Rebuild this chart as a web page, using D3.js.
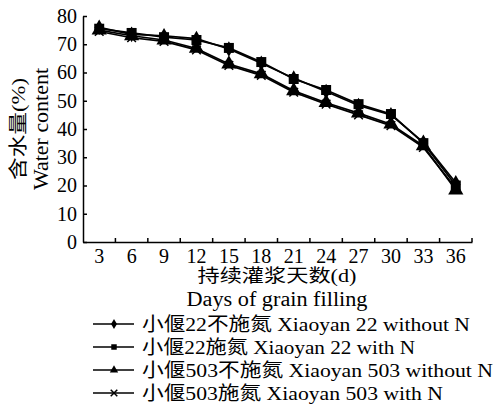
<!DOCTYPE html>
<html>
<head>
<meta charset="utf-8">
<script src="https://cdn.jsdelivr.net/npm/d3@7"></script>
<style>
body { margin: 0; background: #fff; }
text { font-family: "Liberation Serif", "Times New Roman", serif; fill: #000; }
.cjk { font-family: "Liberation Serif", "Noto Sans CJK SC", serif; }
</style>
</head>
<body>
<script>
var width = 497, height = 407;

var days = [3, 6, 9, 12, 15, 18, 21, 24, 27, 30, 33, 36];
var yTicks = [0, 10, 20, 30, 40, 50, 60, 70, 80];
var names = ["小偃22不施氮 Xiaoyan 22 without N", "小偃22施氮 Xiaoyan 22 with N",
             "小偃503不施氮 Xiaoyan 503 without N", "小偃503施氮 Xiaoyan 503 with N"];
var xy22noN = [76, 73.5, 73, 72, 68.3, 63.3, 58, 53.3, 48.3, 45, 35.3, 21];
var xy22N   = [75.5, 74, 72.5, 71.5, 68.7, 63.7, 57.7, 53.8, 48.8, 45.3, 35, 20];
var xy503noN = [75, 73, 71.5, 68.5, 63, 59.5, 53.5, 49.3, 45.6, 41.7, 34, 18.4];
var xy503N   = [74.5, 72.3, 71, 68, 62.5, 59, 53, 48.8, 45, 41.2, 33.5, 19];
var series = [xy22noN, xy22N, xy503noN, xy503N];
var shapes = ["diamond", "square", "triangle", "cross"];

var svg = d3.select("body").append("svg")
            .attr("width", width).attr("height", height);

var mLeft = 83, mRight = 472, mTop = 16, mBottom = 242;

var x = d3.scaleBand().domain(days).range([mLeft, mRight]).padding(0);
var y = d3.scaleLinear().domain([0, 80]).range([mBottom, mTop]);

function cx(i) { return x(days[i]) + x.bandwidth() / 2; }

// y axis
var yAxis = svg.append("g").attr("transform", "translate(" + mLeft + ",0)")
   .call(d3.axisLeft(y).tickValues(yTicks).tickSizeInner(-4).tickSizeOuter(0).tickPadding(6));
yAxis.selectAll("text").attr("font-size", 20).style("font-family", "Liberation Serif");
yAxis.select(".domain").attr("stroke-width", 1.5);
yAxis.selectAll(".tick line").attr("stroke-width", 1.5);

// x axis
var xAxis = svg.append("g").attr("transform", "translate(0," + mBottom + ")")
   .call(d3.axisBottom(x).tickSize(0).tickPadding(7));
xAxis.selectAll("text").attr("font-size", 20).style("font-family", "Liberation Serif");
xAxis.select(".domain").attr("stroke-width", 1.5);
xAxis.selectAll(".boundary").data(days).enter().append("line")
   .attr("x1", function(d){ return x(d) + x.bandwidth(); })
   .attr("x2", function(d){ return x(d) + x.bandwidth(); })
   .attr("y1", 0).attr("y2", -4)
   .attr("stroke", "#000").attr("stroke-width", 1.5);

// axis titles
svg.append("text").attr("class", "cjk").attr("font-size", 19).attr("text-anchor", "middle")
   .attr("textLength", 102).attr("lengthAdjust", "spacingAndGlyphs")
   .attr("transform", "translate(25,129) rotate(-90)").text("含水量(%)");
svg.append("text").attr("font-size", 20).attr("text-anchor", "middle")
   .attr("textLength", 122).attr("lengthAdjust", "spacingAndGlyphs")
   .attr("transform", "translate(48,129) rotate(-90)").text("Water content");
svg.append("text").attr("class", "cjk").attr("font-size", 18).attr("text-anchor", "middle")
   .attr("textLength", 159).attr("lengthAdjust", "spacingAndGlyphs")
   .attr("x", 277).attr("y", 282).text("持续灌浆天数(d)");
svg.append("text").attr("font-size", 20).attr("text-anchor", "middle")
   .attr("textLength", 181).attr("lengthAdjust", "spacingAndGlyphs")
   .attr("x", 277).attr("y", 306).text("Days of grain filling");

function marker(g, shape, size) {
    if (shape === "cross") {
        g.append("path").attr("d", d3.symbol().type(d3.symbolX).size(size)())
         .attr("fill", "none").attr("stroke", "#000").attr("stroke-width", 1.5);
    } else {
        var t = shape === "diamond" ? d3.symbolDiamond : shape === "square" ? d3.symbolSquare : d3.symbolTriangle;
        g.append("path").attr("d", d3.symbol().type(t).size(size)()).attr("fill", "#000");
    }
}

var line = d3.line().x(function(d, i){ return cx(i); }).y(function(d){ return y(d); });

series.forEach(function(s, k) {
    svg.append("path").datum(s).attr("d", line)
       .attr("fill", "none").attr("stroke", "#000").attr("stroke-width", 1.7);
    s.forEach(function(v, i) {
        var g = svg.append("g").attr("transform", "translate(" + cx(i) + "," + y(v) + ")");
        marker(g, shapes[k], k === 0 ? 70 : k === 3 ? 50 : 100);
    });
});

// legend
var legendEnds = [470, 415, 493, 443];
var legend = svg.append("g").selectAll(".legends").data(names).enter().append("g")
   .attr("transform", function(d, i){ return "translate(93," + (324 + i * 23) + ")"; });
legend.append("line").attr("x1", 0).attr("x2", 41).attr("y1", 0).attr("y2", 0)
   .attr("stroke", "#000").attr("stroke-width", 1.3);
legend.each(function(d, i) {
    var g = d3.select(this).append("g").attr("transform", "translate(21,0)");
    marker(g, shapes[i], 30);
});
legend.append("text").attr("class", "cjk").attr("font-size", 19).attr("x", 49).attr("y", 7)
   .attr("textLength", function(d, i){ return legendEnds[i] - 142; })
   .attr("lengthAdjust", "spacingAndGlyphs")
   .text(function(d){ return d; });
</script>
</body>
</html>
